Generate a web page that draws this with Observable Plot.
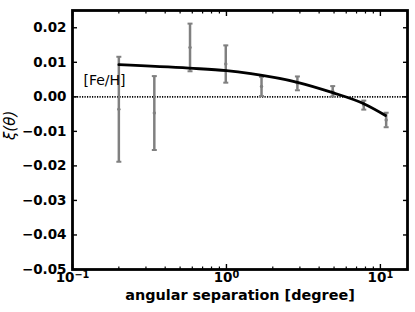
<!DOCTYPE html>
<html><head><meta charset="utf-8">
<script src="https://cdn.jsdelivr.net/npm/d3@7"></script>
<script src="https://cdn.jsdelivr.net/npm/@observablehq/plot@0.6"></script>
<style>body{margin:0;background:#fff}</style>
</head><body><div id="chart"></div>
<script>
// measured points (angular separation in degrees, correlation, error)
const theta = [0.2, 0.34, 0.58, 0.99, 1.69, 2.89, 4.9, 7.8, 10.9];
const xi = [-0.0036, -0.0047, 0.0143, 0.0095, 0.0030, 0.0039, 0.0016, -0.0024, -0.0067];
const xiErr = [0.0152, 0.0107, 0.0069, 0.0054, 0.0028, 0.0020, 0.0015, 0.0013, 0.0021];
// fitted curve
const fitTheta = [0.2, 0.57, 1.0, 1.44, 2.89, 4.9, 7.8, 10.8];
const fitXi = [0.0093, 0.0083, 0.0076, 0.0067, 0.0042, 0.0012, -0.0020, -0.0054];
// ticks
const xMajor = [0.1, 1, 10];
const xMajorExp = ["\u22121", "0", "1"];
const xMinor = [0.2, 0.3, 0.4, 0.5, 0.6, 0.7, 0.8, 0.9, 2, 3, 4, 5, 6, 7, 8, 9];
const yTicks = [-0.05, -0.04, -0.03, -0.02, -0.01, 0.00, 0.01, 0.02];
const annotation = "[Fe/H]";
const xTitle = "angular separation [degree]";
const yTitle = "\u03BE(\u03B8)";

const points = theta.map((t, i) => ({t, v: xi[i], lo: xi[i] - xiErr[i], hi: xi[i] + xiErr[i]}));
const fit = fitTheta.map((t, i) => ({t, v: fitXi[i]}));
const capSymbol = {draw(ctx, size) { const r = Math.sqrt(size / Math.PI); ctx.moveTo(-r, 0); ctx.lineTo(r, 0); }};
const gray = "#808080";
const font = "DejaVu Sans";

const chart = Plot.plot({
  width: 415, height: 312,
  marginLeft: 72, marginRight: 8, marginTop: 10, marginBottom: 43,
  style: {fontFamily: font, background: "#fff", color: "#000"},
  x: {type: "log", domain: [0.1, 15], label: null},
  y: {domain: [-0.05, 0.025], label: null},
  marks: [
    Plot.ruleY([0], {stroke: "#000", strokeWidth: 1.6, strokeDasharray: "1.2,1.3"}),
    Plot.ruleX(points, {x: "t", y1: "lo", y2: "hi", stroke: gray, strokeWidth: 2.5}),
    Plot.dot(points, {x: "t", y: "lo", symbol: capSymbol, r: 2.5, stroke: gray, strokeWidth: 2, fill: "none"}),
    Plot.dot(points, {x: "t", y: "hi", symbol: capSymbol, r: 2.5, stroke: gray, strokeWidth: 2, fill: "none"}),
    Plot.dot(points, {x: "t", y: "v", r: 1.7, fill: gray, stroke: "none"}),
    Plot.line(fit, {x: "t", y: "v", stroke: "#000", strokeWidth: 2.8, curve: "monotone-x"}),
    // inward ticks
    Plot.axisX(xMajor, {anchor: "bottom", tickSize: -5, strokeWidth: 1.4, text: null, label: null}),
    Plot.axisX(xMinor, {anchor: "bottom", tickSize: -2.5, strokeWidth: 1.2, text: null, label: null}),
    Plot.axisX(xMajor, {anchor: "top", tickSize: -5, strokeWidth: 1.4, text: null, label: null}),
    Plot.axisX(xMinor, {anchor: "top", tickSize: -2.5, strokeWidth: 1.2, text: null, label: null}),
    Plot.axisY(yTicks, {anchor: "left", tickSize: -5, strokeWidth: 1.4, text: null, label: null}),
    Plot.axisY(yTicks, {anchor: "right", tickSize: -5, strokeWidth: 1.4, text: null, label: null}),
    // tick labels
    Plot.axisX(xMajor, {anchor: "bottom", tickSize: 0, tickPadding: 3, tickFormat: d => "10^" + xMajorExp[xMajor.indexOf(d)], fontSize: 13.5, fontWeight: "bold", label: null, ariaLabel: "xlabels"}),
    Plot.axisY(yTicks, {anchor: "left", tickSize: 0, tickPadding: 6, tickFormat: d3.format(".2f"), fontSize: 13.5, fontWeight: "bold", label: null}),
    Plot.frame({stroke: "#000", strokeWidth: 2.8}),
    // titles and annotation
    Plot.text([xTitle], {frameAnchor: "bottom", dy: 26, lineAnchor: "middle", fontSize: 14.4, fontWeight: "bold"}),
    Plot.text([yTitle], {frameAnchor: "left", dx: -62, rotate: -90, fontSize: 15, fontStyle: "italic"}),
    Plot.text([annotation], {frameAnchor: "top-left", dx: 11, dy: 65, textAnchor: "start", lineAnchor: "top", fontSize: 14})
  ]
});
// render exponents as superscripts
d3.select(chart).selectAll("text").each(function() {
  const s = this.textContent;
  if (s.startsWith("10^")) {
    const exp = s.slice(3);
    this.textContent = "10";
    d3.select(this).append("tspan").attr("dy", "-0.45em").attr("font-size", "0.72em").text(exp);
  }
});
document.getElementById("chart").append(chart);
</script>
</body></html>
